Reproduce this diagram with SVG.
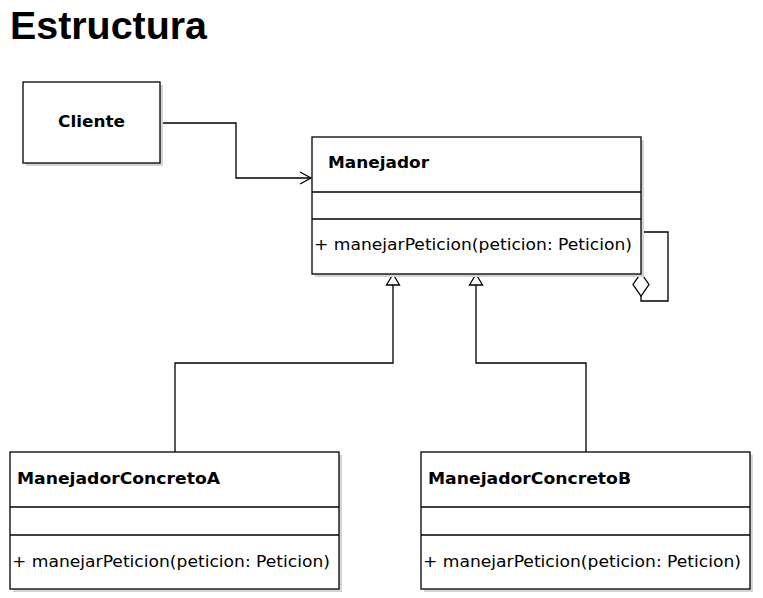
<svg xmlns="http://www.w3.org/2000/svg" width="763" height="598" viewBox="0 0 763 598">
<style>
.box{fill:#fff;stroke:#000;stroke-width:1.3}
.sh{fill:#d4d4d4}
.sep{stroke:#000;stroke-width:1.3}
.name{font-family:"DejaVu Sans",sans-serif;font-weight:bold;font-size:16.5px;fill:#000}
.op{font-family:"DejaVu Sans",sans-serif;font-size:15.5px;fill:#000}
.ln{fill:none;stroke:#000;stroke-width:1.3}
.title{font-family:"Liberation Sans",Arial,sans-serif;font-weight:bold;font-size:38px;fill:#000}
</style>
<rect width="763" height="598" fill="#fff"/>
<text class="title" x="10" y="39" textLength="197" lengthAdjust="spacingAndGlyphs">Estructura</text>
<g id="connectors">
<path class="ln" d="M160,123 H236 V178 H311"/>
<path class="ln" d="M300,172 L311,178 L300,184"/>
<path class="ln" d="M641,232 H668 V301 H641 V296"/>
<path class="ln" d="M641,273 L649,284.5 L641,296 L633,284.5 Z" fill="#fff"/>
<path class="ln" d="M393,285 V363 H175 V452"/>
<path class="ln" d="M476,285 V363 H586 V452"/>
<path class="ln" d="M393,274 L399.5,285 L386.5,285 Z" style="fill:#fff"/>
<path class="ln" d="M476,274 L482.5,285 L469.5,285 Z" style="fill:#fff"/>
</g>
<g id="cliente">
<rect class="sh" x="26" y="85" width="137" height="81"/>
<rect class="box" x="23" y="82" width="137" height="81"/>
<text class="name" x="58" y="127" textLength="67" lengthAdjust="spacingAndGlyphs">Cliente</text>
</g>
<g id="manejador">
<rect class="sh" x="315" y="140" width="329" height="137"/>
<rect class="box" x="312" y="137" width="329" height="137"/>
<line class="sep" x1="312" y1="192" x2="641" y2="192"/>
<line class="sep" x1="312" y1="219" x2="641" y2="219"/>
<text class="name" x="328" y="168" textLength="101" lengthAdjust="spacingAndGlyphs">Manejador</text>
<text class="op" x="314" y="250" textLength="318" lengthAdjust="spacingAndGlyphs">+ manejarPeticion(peticion: Peticion)</text>
</g>
<g id="concretoA">
<rect class="sh" x="13" y="455" width="329" height="137"/>
<rect class="box" x="10" y="452" width="329" height="137"/>
<line class="sep" x1="10" y1="507" x2="339" y2="507"/>
<line class="sep" x1="10" y1="535" x2="339" y2="535"/>
<text class="name" x="17" y="484" textLength="203" lengthAdjust="spacingAndGlyphs">ManejadorConcretoA</text>
<text class="op" x="12" y="567" textLength="318" lengthAdjust="spacingAndGlyphs">+ manejarPeticion(peticion: Peticion)</text>
</g>
<g id="concretoB">
<rect class="sh" x="424" y="455" width="329" height="137"/>
<rect class="box" x="421" y="452" width="329" height="137"/>
<line class="sep" x1="421" y1="507" x2="750" y2="507"/>
<line class="sep" x1="421" y1="535" x2="750" y2="535"/>
<text class="name" x="428" y="484" textLength="203" lengthAdjust="spacingAndGlyphs">ManejadorConcretoB</text>
<text class="op" x="423" y="567" textLength="318" lengthAdjust="spacingAndGlyphs">+ manejarPeticion(peticion: Peticion)</text>
</g>
</svg>
